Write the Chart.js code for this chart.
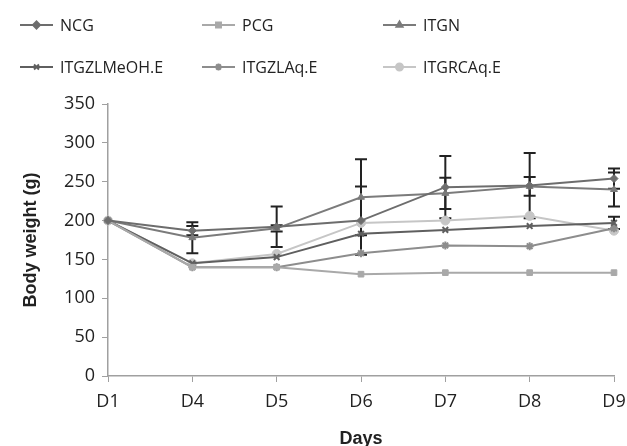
<!DOCTYPE html>
<html>
<head>
<meta charset="utf-8">
<script src="https://cdn.jsdelivr.net/npm/chart.js@4.4.1/dist/chart.umd.min.js"></script>
<style>
    html, body { margin: 0; padding: 0; background: #fff; }
    #wrap { width: 627px; height: 446px; position: relative; }
</style>
</head>
<body>
<div id="wrap"><canvas id="weightChart" width="627" height="446"></canvas></div>
<script>
const days = ['D1', 'D4', 'D5', 'D6', 'D7', 'D8', 'D9'];
const yTicks = [0, 50, 100, 150, 200, 250, 300, 350];

const ncg = [200, 187, 192, 200, 243, 245, 254];
const pcg = [200, 140, 140, 131, 133, 133, 133];
const itgn = [200, 178, 190, 230, 235, 244, 240];
const itgzlMeoh = [200, 145, 153, 183, 188, 193, 197];
const itgzlAq = [200, 140, 140, 158, 168, 167, 190];
const itgrcAq = [200, 145, 157, 197, 200, 206, 187];

const ncgErr = [0, 6, 26, 44, 40, 42, 13];
const itgnErr = [0, 20, 4, 49, 20, 12, 22];
const itgzlMeohErr = [0, 0, 0, 0, 0, 0, 8];

const seriesNames = ['NCG', 'PCG', 'ITGN', 'ITGZLMeOH.E', 'ITGZLAq.E', 'ITGRCAq.E'];

document.addEventListener('DOMContentLoaded', () => {
    const canvas = document.getElementById('weightChart');
    const font = '"Open Sans", "Liberation Sans", sans-serif';
    const boldFont = '"Liberation Sans", Arial, sans-serif';

    const makeSet = (label, data, color, style, errors) => ({
        label,
        data,
        errors,
        borderColor: color,
        backgroundColor: color,
        borderWidth: 2,
        pointStyle: style,
        pointRadius: style === 'circle' ? 4.5 : 4,
        pointBorderWidth: style === 'crossRot' || style === 'star' ? 2 : 1,
        pointBorderColor: color,
        tension: 0,
    });

    const datasets = [
        makeSet(seriesNames[0], ncg, '#6d6d6d', 'rectRot', ncgErr),
        makeSet(seriesNames[1], pcg, '#a9a9a9', 'rect', null),
        makeSet(seriesNames[2], itgn, '#7b7b7b', 'triangle', itgnErr),
        makeSet(seriesNames[3], itgzlMeoh, '#5f5f5f', 'crossRot', itgzlMeohErr),
        makeSet(seriesNames[4], itgzlAq, '#8d8d8d', 'star', null),
        makeSet(seriesNames[5], itgrcAq, '#c6c6c6', 'circle', null),
    ];

    // error bars, drawn under the lines
    const errorBars = {
        id: 'errorBars',
        beforeDatasetsDraw(chart) {
            const ctx = chart.ctx;
            const yScale = chart.scales.y;
            ctx.save();
            ctx.strokeStyle = '#222';
            ctx.lineWidth = 2;
            chart.data.datasets.forEach((ds, di) => {
                if (!ds.errors) return;
                const meta = chart.getDatasetMeta(di);
                ds.errors.forEach((e, i) => {
                    if (!e) return;
                    const x = meta.data[i].x;
                    const top = yScale.getPixelForValue(ds.data[i] + e);
                    const bot = yScale.getPixelForValue(ds.data[i] - e);
                    ctx.beginPath();
                    ctx.moveTo(x, top);
                    ctx.lineTo(x, bot);
                    ctx.moveTo(x - 6, top);
                    ctx.lineTo(x + 6, top);
                    ctx.moveTo(x - 6, bot);
                    ctx.lineTo(x + 6, bot);
                    ctx.stroke();
                });
            });
            ctx.restore();
        },
    };

    // legend in a 3-column grid at the top
    const gridLegend = {
        id: 'gridLegend',
        afterDraw(chart) {
            const ctx = chart.ctx;
            const colX = [20, 202, 383];
            const rowY = [25, 67];
            ctx.save();
            chart.data.datasets.forEach((ds, i) => {
                const x0 = colX[i % 3];
                const y = rowY[Math.floor(i / 3)];
                ctx.strokeStyle = ds.borderColor;
                ctx.lineWidth = 2;
                ctx.beginPath();
                ctx.moveTo(x0, y);
                ctx.lineTo(x0 + 33, y);
                ctx.stroke();
                ctx.fillStyle = ds.backgroundColor;
                Chart.helpers.drawPoint(ctx, {
                    pointStyle: ds.pointStyle,
                    radius: 3.5,
                    rotation: 0,
                    borderWidth: ds.pointBorderWidth,
                }, x0 + 16.5, y);
                ctx.fillStyle = '#222';
                ctx.font = '16px ' + font;
                ctx.textBaseline = 'middle';
                ctx.textAlign = 'left';
                ctx.fillText(ds.label, x0 + 40, y + 1);
            });
            ctx.restore();
        },
    };

    new Chart(canvas, {
        type: 'line',
        data: { labels: days, datasets },
        options: {
            responsive: false,
            animation: false,
            layout: { padding: { top: 104, left: 16, right: 13, bottom: 0 } },
            plugins: {
                legend: { display: false },
                tooltip: { enabled: false },
            },
            scales: {
                x: {
                    offset: false,
                    grid: {
                        display: true,
                        drawOnChartArea: false,
                        color: '#a0a0a0',
                        tickLength: 6,
                    },
                    border: { color: '#a0a0a0', width: 1.5 },
                    ticks: {
                        color: '#222',
                        font: { family: font, size: 18 },
                        padding: 9,
                        maxRotation: 0,
                    },
                    title: {
                        display: true,
                        text: 'Days',
                        color: '#222',
                        font: { family: boldFont, size: 18, weight: 'bold' },
                        padding: { top: 0, bottom: -4 },
                    },
                    afterFit(scale) {
                        scale.height = 70;
                        scale.paddingLeft = 0;
                        scale.paddingRight = 0;
                    },
                },
                y: {
                    min: 0,
                    max: 350,
                    afterBuildTicks(scale) {
                        scale.ticks = yTicks.map((v) => ({ value: v }));
                    },
                    grid: {
                        display: true,
                        drawOnChartArea: false,
                        color: '#a0a0a0',
                        tickLength: 6,
                    },
                    border: { color: '#a0a0a0', width: 1.5 },
                    ticks: {
                        color: '#222',
                        font: { family: font, size: 18 },
                        padding: 7,
                    },
                    title: {
                        display: true,
                        text: 'Body weight (g)',
                        color: '#222',
                        font: { family: boldFont, size: 18, weight: 'bold' },
                        padding: { bottom: 4 },
                    },
                    afterFit(scale) { scale.width = 92; },
                },
            },
        },
        plugins: [errorBars, gridLegend],
    });
});
</script>
</body>
</html>
